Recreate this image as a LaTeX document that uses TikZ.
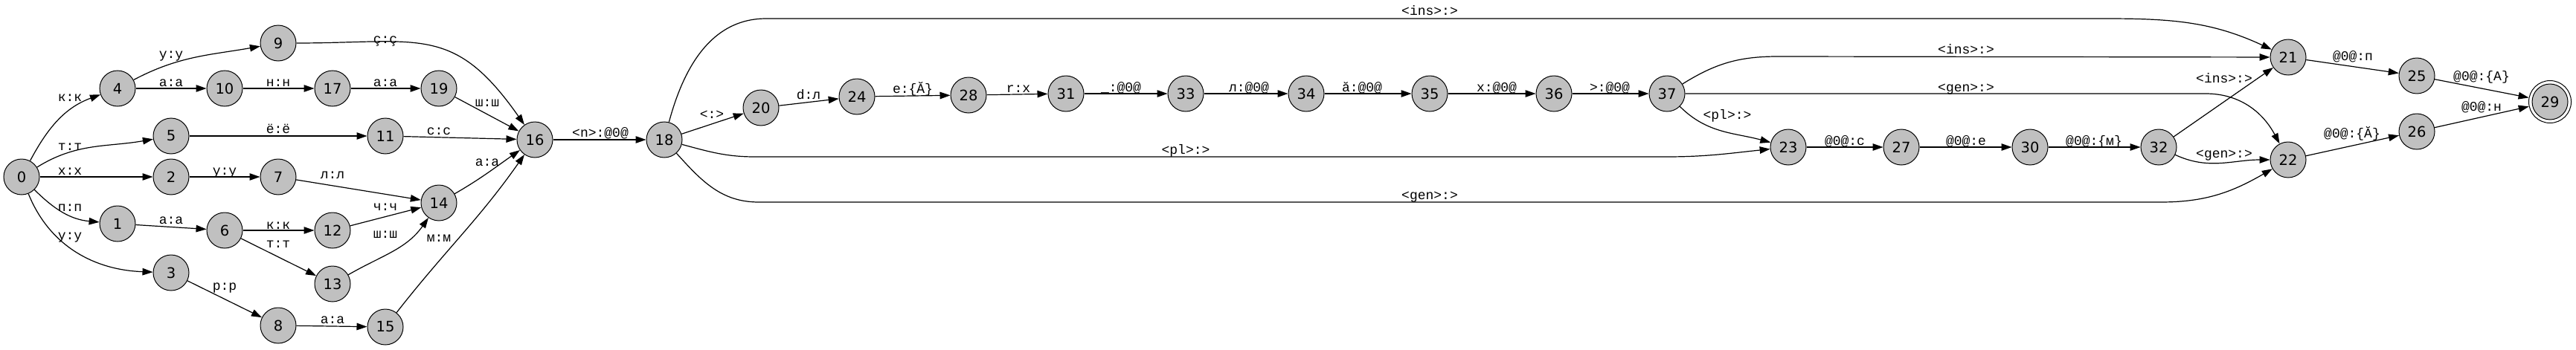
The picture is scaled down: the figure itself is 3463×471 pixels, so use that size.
\documentclass[tikz,border=0pt]{standalone}
\usepackage{fontspec}
\setmainfont{DejaVu Sans}
\newfontfamily\lblfont{Liberation Mono}
\usetikzlibrary{arrows.meta}
\definecolor{nodegray}{HTML}{C0C0C0}
\begin{document}
\begin{tikzpicture}[x=1pt,y=1pt,
  st/.style={circle, draw=black, line width=1pt, fill=nodegray, minimum size=48pt, inner sep=0pt, font=\fontsize{19.5}{20}\selectfont},
  outer/.style={circle, draw=black, line width=1pt, minimum size=57pt, inner sep=0pt},
  e/.style={line width=1.2pt, -{Triangle[length=14pt,width=9.5pt]}},
  lbl/.style={font=\lblfont\fontsize{18}{18}\selectfont, inner sep=0pt, anchor=base}]
\useasboundingbox (0,0) rectangle (3463,-471);
% states
\node[st] (0) at (29,-238) {0};
\node[st] (4) at (158,-119) {4};
\node[st] (5) at (230,-183) {5};
\node[st] (2) at (230,-238) {2};
\node[st] (1) at (158,-301) {1};
\node[st] (3) at (230,-367) {3};
\node[st] (9) at (374,-58) {9};
\node[st] (10) at (302,-119) {10};
\node[st] (7) at (374,-238) {7};
\node[st] (6) at (302,-310) {6};
\node[st] (8) at (374,-438) {8};
\node[st] (17) at (447,-119) {17};
\node[st] (12) at (447,-310) {12};
\node[st] (13) at (447,-382) {13};
\node[st] (19) at (590,-119) {19};
\node[st] (11) at (518,-183) {11};
\node[st] (14) at (590,-273) {14};
\node[st] (15) at (518,-440) {15};
\node[st] (16) at (719,-188) {16};
\node[st] (18) at (893,-188) {18};
\node[st] (20) at (1023,-145) {20};
\node[st] (24) at (1152,-130) {24};
\node[st] (28) at (1302,-128) {28};
\node[st] (31) at (1433,-126) {31};
\node[st] (33) at (1594,-126) {33};
\node[st] (34) at (1756,-126) {34};
\node[st] (35) at (1922,-126) {35};
\node[st] (36) at (2089,-126) {36};
\node[st] (37) at (2241,-126) {37};
\node[st] (23) at (2404,-198) {23};
\node[st] (27) at (2556,-198) {27};
\node[st] (30) at (2729,-198) {30};
\node[st] (32) at (2902,-198) {32};
\node[st] (21) at (3076,-77) {21};
\node[st] (22) at (3076,-215) {22};
\node[st] (25) at (3249,-102) {25};
\node[st] (26) at (3249,-177) {26};
\node[st] (29) at (3428,-137) {29};
\node[outer] (29o) at (29) {};
% edges
\draw[e] (0) to[out=62,in=200] (4);
\draw[e] (0) to[out=32,in=190] (5);
\draw[e] (0) -- (2);
\draw[e] (0) to[out=-45,in=175] (1);
\draw[e] (0) to[out=-68,in=178] (3);
\draw[e] (4) to[out=28,in=190] (9);
\draw[e] (4) -- (10);
\draw[e] (10) -- (17);
\draw[e] (17) -- (19);
\draw[e] (9) to[out=0,in=125,looseness=1.3] (16);
\draw[e] (19) -- (16);
\draw[e] (5) -- (11);
\draw[e] (11) -- (16);
\draw[e] (2) -- (7);
\draw[e] (7) -- (14);
\draw[e] (14) to[out=30,in=215] (16);
\draw[e] (1) -- (6);
\draw[e] (6) -- (12);
\draw[e] (6) -- (13);
\draw[e] (12) -- (14);
\draw[e] (13) to[out=30,in=235] (14);
\draw[e] (3) -- (8);
\draw[e] (8) -- (15);
\draw[e] (15) to[out=52,in=235] (16);
\draw[e] (16) -- (18);
\draw[e] (18) -- (20);
\draw[e] (20) -- (24);
\draw[e] (24) -- (28);
\draw[e] (28) -- (31);
\draw[e] (31) -- (33);
\draw[e] (33) -- (34);
\draw[e] (34) -- (35);
\draw[e] (35) -- (36);
\draw[e] (36) -- (37);
\draw[e] (18) to[out=75,in=180] (1030,-25) -- (2830,-25) to[out=0,in=155] (21);
\draw[e] (18) to[out=-15,in=180] (1015,-211) -- (2240,-211) to[out=0,in=186] (23);
\draw[e] (18) to[out=-48,in=180] (1020,-272) -- (2905,-272) to[out=0,in=210] (22);
\draw[e] (37) to[out=32,in=180] (2390,-76) -- (21);
\draw[e] (37) -- (2965,-126) to[out=0,in=118] (22);
\draw[e] (37) to[out=-45,in=165] (23);
\draw[e] (23) -- (27);
\draw[e] (27) -- (30);
\draw[e] (30) -- (32);
\draw[e] (32) -- (21);
\draw[e] (32) to[out=-25,in=180] (22);
\draw[e] (21) -- (25);
\draw[e] (25) -- (29o);
\draw[e] (22) -- (26);
\draw[e] (26) -- (29o);
% labels
\node[lbl] (l0-4) at (94,-136) {к:к};
\node[lbl] (l4-9) at (230,-78) {у:у};
\node[lbl] (l4-10) at (230,-116) {а:а};
\node[lbl] (l10-17) at (374,-116) {н:н};
\node[lbl] (l0-5) at (94,-202) {т:т};
\node[lbl] (l5-11) at (374,-179) {ё:ё};
\node[lbl] (l0-2) at (94,-235) {х:х};
\node[lbl] (l2-7) at (302,-235) {у:у};
\node[lbl] (l7-14) at (447,-240) {л:л};
\node[lbl] (l0-1) at (94,-284) {п:п};
\node[lbl] (l1-6) at (230,-301) {а:а};
\node[lbl] (l6-12) at (374,-308) {к:к};
\node[lbl] (l6-13) at (374,-333) {т:т};
\node[lbl] (l0-3) at (94,-322) {у:у};
\node[lbl] (l3-8) at (302,-390) {р:р};
\node[lbl] (l8-15) at (447,-435) {а:а};
\node[lbl] (l9-16) at (518,-58) {ç:ç};
\node[lbl] (l17-19) at (518,-116) {а:а};
\node[lbl] (l19-16) at (655,-143) {ш:ш};
\node[lbl] (l11-16) at (590,-181) {с:с};
\node[lbl] (l14-16) at (655,-223) {а:а};
\node[lbl] (l12-14) at (518,-283) {ч:ч};
\node[lbl] (l13-14) at (518,-320) {ш:ш};
\node[lbl] (l15-16) at (590,-325) {м:м};
\node[lbl] (l16-18) at (807,-184) {<n>:@0@};
\node[lbl] (l18-20) at (957,-159) {<:>};
\node[lbl] (l20-24) at (1087,-133) {d:л};
\node[lbl] (l24-28) at (1227,-125) {e:\{Ă\}};
\node[lbl] (l28-31) at (1369,-124) {r:x};
\node[lbl] (l31-33) at (1507,-123) {\_:@0@};
\node[lbl] (l33-34) at (1679,-123) {л:@0@};
\node[lbl] (l34-35) at (1831,-123) {ă:@0@};
\node[lbl] (l35-36) at (2012,-123) {x:@0@};
\node[lbl] (l36-37) at (2164,-123) {>:@0@};
\node[lbl] (l18-21) at (1922,-20) {<ins>:>};
\node[lbl] (l18-23) at (1594,-207) {<pl>:>};
\node[lbl] (l18-22) at (1922,-268) {<gen>:>};
\node[lbl] (l37-23) at (2322,-160) {<pl>:>};
\node[lbl] (l37-21) at (2643,-72) {<ins>:>};
\node[lbl] (l37-22) at (2643,-123) {<gen>:>};
\node[lbl] (l23-27) at (2480,-195) {@0@:c};
\node[lbl] (l27-30) at (2643,-195) {@0@:e};
\node[lbl] (l30-32) at (2815,-195) {@0@:\{м\}};
\node[lbl] (l32-21) at (2990,-111) {<ins>:>};
\node[lbl] (l32-22) at (2990,-212) {<gen>:>};
\node[lbl] (l21-25) at (3163,-81) {@0@:п};
\node[lbl] (l25-29) at (3336,-108) {@0@:\{A\}};
\node[lbl] (l26-29) at (3336,-149) {@0@:н};
\node[lbl] (l22-26) at (3162,-185) {@0@:\{Ă\}};
\end{tikzpicture}
\end{document}
